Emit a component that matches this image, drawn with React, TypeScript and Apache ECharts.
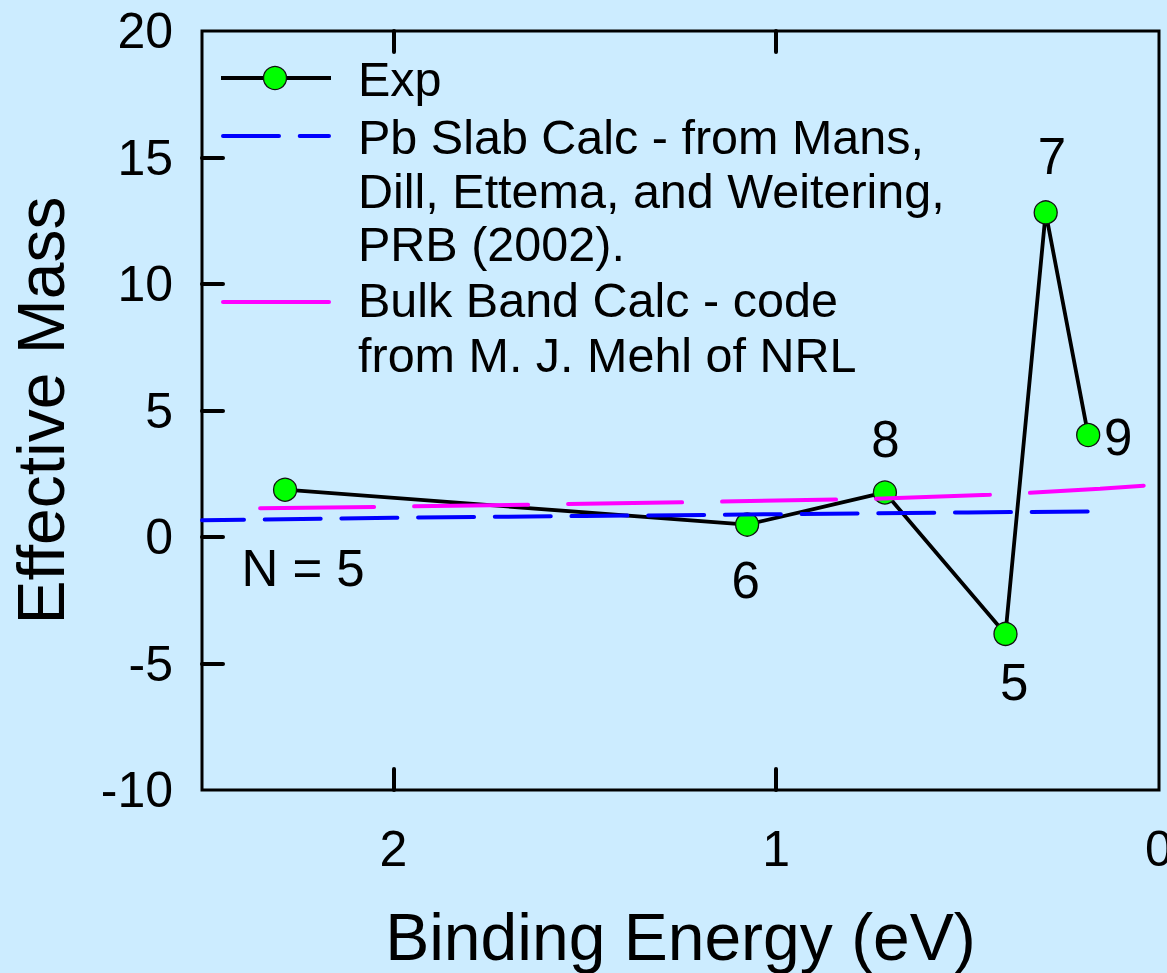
import React, { useEffect, useRef } from "react";
import * as echarts from "echarts";

// Experimental effective mass vs binding energy, with quantum-well index labels
const expEnergy = [2.283, 1.076, 0.716, 0.401, 0.296, 0.185];
const expMass = [1.87, 0.49, 1.76, -3.83, 12.83, 4.03];
const expLabels = ["N = 5", "6", "8", "5", "7", "9"];

// Pb slab calculation (Mans, Dill, Ettema, Weitering, PRB 2002)
const slabEnergy = [2.5, 2.0, 1.5, 1.0, 0.5, 0.16];
const slabMass = [0.66, 0.76, 0.83, 0.9, 0.97, 1.01];

// Bulk band calculation (M. J. Mehl, NRL)
const bulkEnergy = [2.437, 2.042, 1.642, 1.242, 0.748, 0.442, 0.345, 0.154, 0];
const bulkMass = [1.12, 1.19, 1.28, 1.37, 1.51, 1.67, 1.74, 1.91, 2.07];

// Axis ticks and labels
const xTickValues = [1, 2];
const xLabelValues = [0, 1, 2];
const yTickValues = [-5, 0, 5, 10, 15];
const yLabelValues = [-10, -5, 0, 5, 10, 15, 20];

// Legend entries
const legendExp = "Exp";
const legendSlab = ["Pb Slab Calc - from Mans,", "Dill, Ettema, and Weitering,", "PRB (2002)."];
const legendBulk = ["Bulk Band Calc - code", "from M. J. Mehl of NRL"];

// Label placement relative to each marker (px)
const labelOffsets: [number, number][] = [
  [18, 79],
  [-1.5, 56],
  [0.5, -53],
  [8.8, 49],
  [6.3, -56],
  [30, 2.7],
];

const FONT = "'Liberation Sans', Arial, Helvetica, sans-serif";
const BG = "#CCECFF";

export default function App() {
  const ref = useRef<HTMLDivElement>(null);

  useEffect(() => {
    if (!ref.current) return;
    const chart = echarts.init(ref.current, undefined, { renderer: "svg" });

    const pair = (xs: number[], ys: number[]) => xs.map((x, i) => [x, ys[i]]);

    const tickStyle = { show: true, inside: true, length: 21, lineStyle: { color: "#000", width: 4, cap: "round" } };

    const legendText = (text: string, y: number) => ({
      type: "text",
      x: 358,
      y,
      style: {
        text,
        fill: "#000",
        font: `48.5px ${FONT}`,
        align: "left",
        verticalAlign: "middle",
      },
    });

    const option: any = {
      animation: false,
      backgroundColor: BG,
      textStyle: { fontFamily: FONT },
      grid: {
        left: 202,
        top: 31,
        right: 8,
        bottom: 183,
        outerBoundsMode: "none",
        containLabel: false,
        show: true,
        borderColor: "#000",
        borderWidth: 3,
        backgroundColor: "transparent",
      },
      xAxis: [
        {
          type: "value",
          position: "bottom",
          min: 0,
          max: 2.5,
          interval: 1,
          inverse: true,
          name: "Binding Energy (eV)",
          nameLocation: "middle",
          nameGap: 114,
          nameTextStyle: { fontSize: 66, color: "#000", fontFamily: FONT },
          axisLine: { show: false, onZero: false },
          axisTick: { ...tickStyle, customValues: xTickValues },
          axisLabel: {
            customValues: xLabelValues,
            margin: 34,
            fontSize: 50,
            color: "#000",
            fontFamily: FONT,
          },
          splitLine: { show: false },
        },
        {
          type: "value",
          position: "top",
          min: 0,
          max: 2.5,
          interval: 1,
          inverse: true,
          axisLine: { show: false, onZero: false },
          axisTick: { ...tickStyle, customValues: xTickValues },
          axisLabel: { show: false },
          splitLine: { show: false },
        },
      ],
      yAxis: {
        type: "value",
        position: "left",
        min: -10,
        max: 20,
        interval: 5,
        name: "Effective Mass",
        nameLocation: "middle",
        nameGap: 128,
        nameTextStyle: { fontSize: 66, color: "#000", fontFamily: FONT },
        axisLine: { show: false, onZero: false },
        axisTick: { ...tickStyle, customValues: yTickValues },
        axisLabel: {
          customValues: yLabelValues,
          margin: 29,
          fontSize: 50,
          color: "#000",
          fontFamily: FONT,
        },
        splitLine: { show: false },
      },
      series: [
        {
          name: legendExp,
          type: "line",
          xAxisIndex: 0,
          data: pair(expEnergy, expMass).map((v, i) => ({
            value: v,
            label: { offset: labelOffsets[i] },
          })),
          symbol: "circle",
          symbolSize: 23,
          itemStyle: { color: "#00FF00", borderColor: "#111", borderWidth: 1.3 },
          lineStyle: { color: "#000", width: 3.8 },
          label: {
            show: true,
            position: "inside",
            formatter: (p: any) => expLabels[p.dataIndex],
            fontSize: 51,
            color: "#000",
            fontFamily: FONT,
          },
          z: 2,
        },
        {
          name: legendSlab.join(" "),
          type: "line",
          xAxisIndex: 0,
          data: pair(slabEnergy, slabMass),
          symbol: "none",
          lineStyle: { color: "#0000FF", width: 4, type: [56, 20.7], dashOffset: 14.4, cap: "round" },
          z: 3,
        },
        {
          name: legendBulk.join(" "),
          type: "line",
          xAxisIndex: 0,
          data: pair(bulkEnergy, bulkMass),
          symbol: "none",
          lineStyle: { color: "#FF00FF", width: 4, type: [114, 40], dashOffset: 119.7, cap: "round" },
          z: 4,
        },
      ],
      graphic: [
        {
          type: "group",
          children: [
            { type: "line", shape: { x1: 221, y1: 78, x2: 331, y2: 78 }, style: { stroke: "#000", lineWidth: 3.8 } },
            { type: "circle", shape: { cx: 275, cy: 78, r: 11.5 }, style: { fill: "#00FF00", stroke: "#111", lineWidth: 1.3 } },
            legendText(legendExp, 79),
            {
              type: "line",
              shape: { x1: 223, y1: 136, x2: 329, y2: 136 },
              style: { stroke: "#0000FF", lineWidth: 4, lineDash: [56, 20.7], lineCap: "round" },
            },
            legendText(legendSlab[0], 137),
            legendText(legendSlab[1], 190.5),
            legendText(legendSlab[2], 244),
            {
              type: "line",
              shape: { x1: 223, y1: 302, x2: 329, y2: 302 },
              style: { stroke: "#FF00FF", lineWidth: 4, lineCap: "round" },
            },
            legendText(legendBulk[0], 300),
            legendText(legendBulk[1], 355),
          ],
        },
      ],
    };

    chart.setOption(option);
    return () => chart.dispose();
  }, []);

  return (
    <div
      ref={ref}
      style={{ position: "absolute", left: 0, top: 0, width: 1167, height: 973, background: BG }}
    />
  );
}
